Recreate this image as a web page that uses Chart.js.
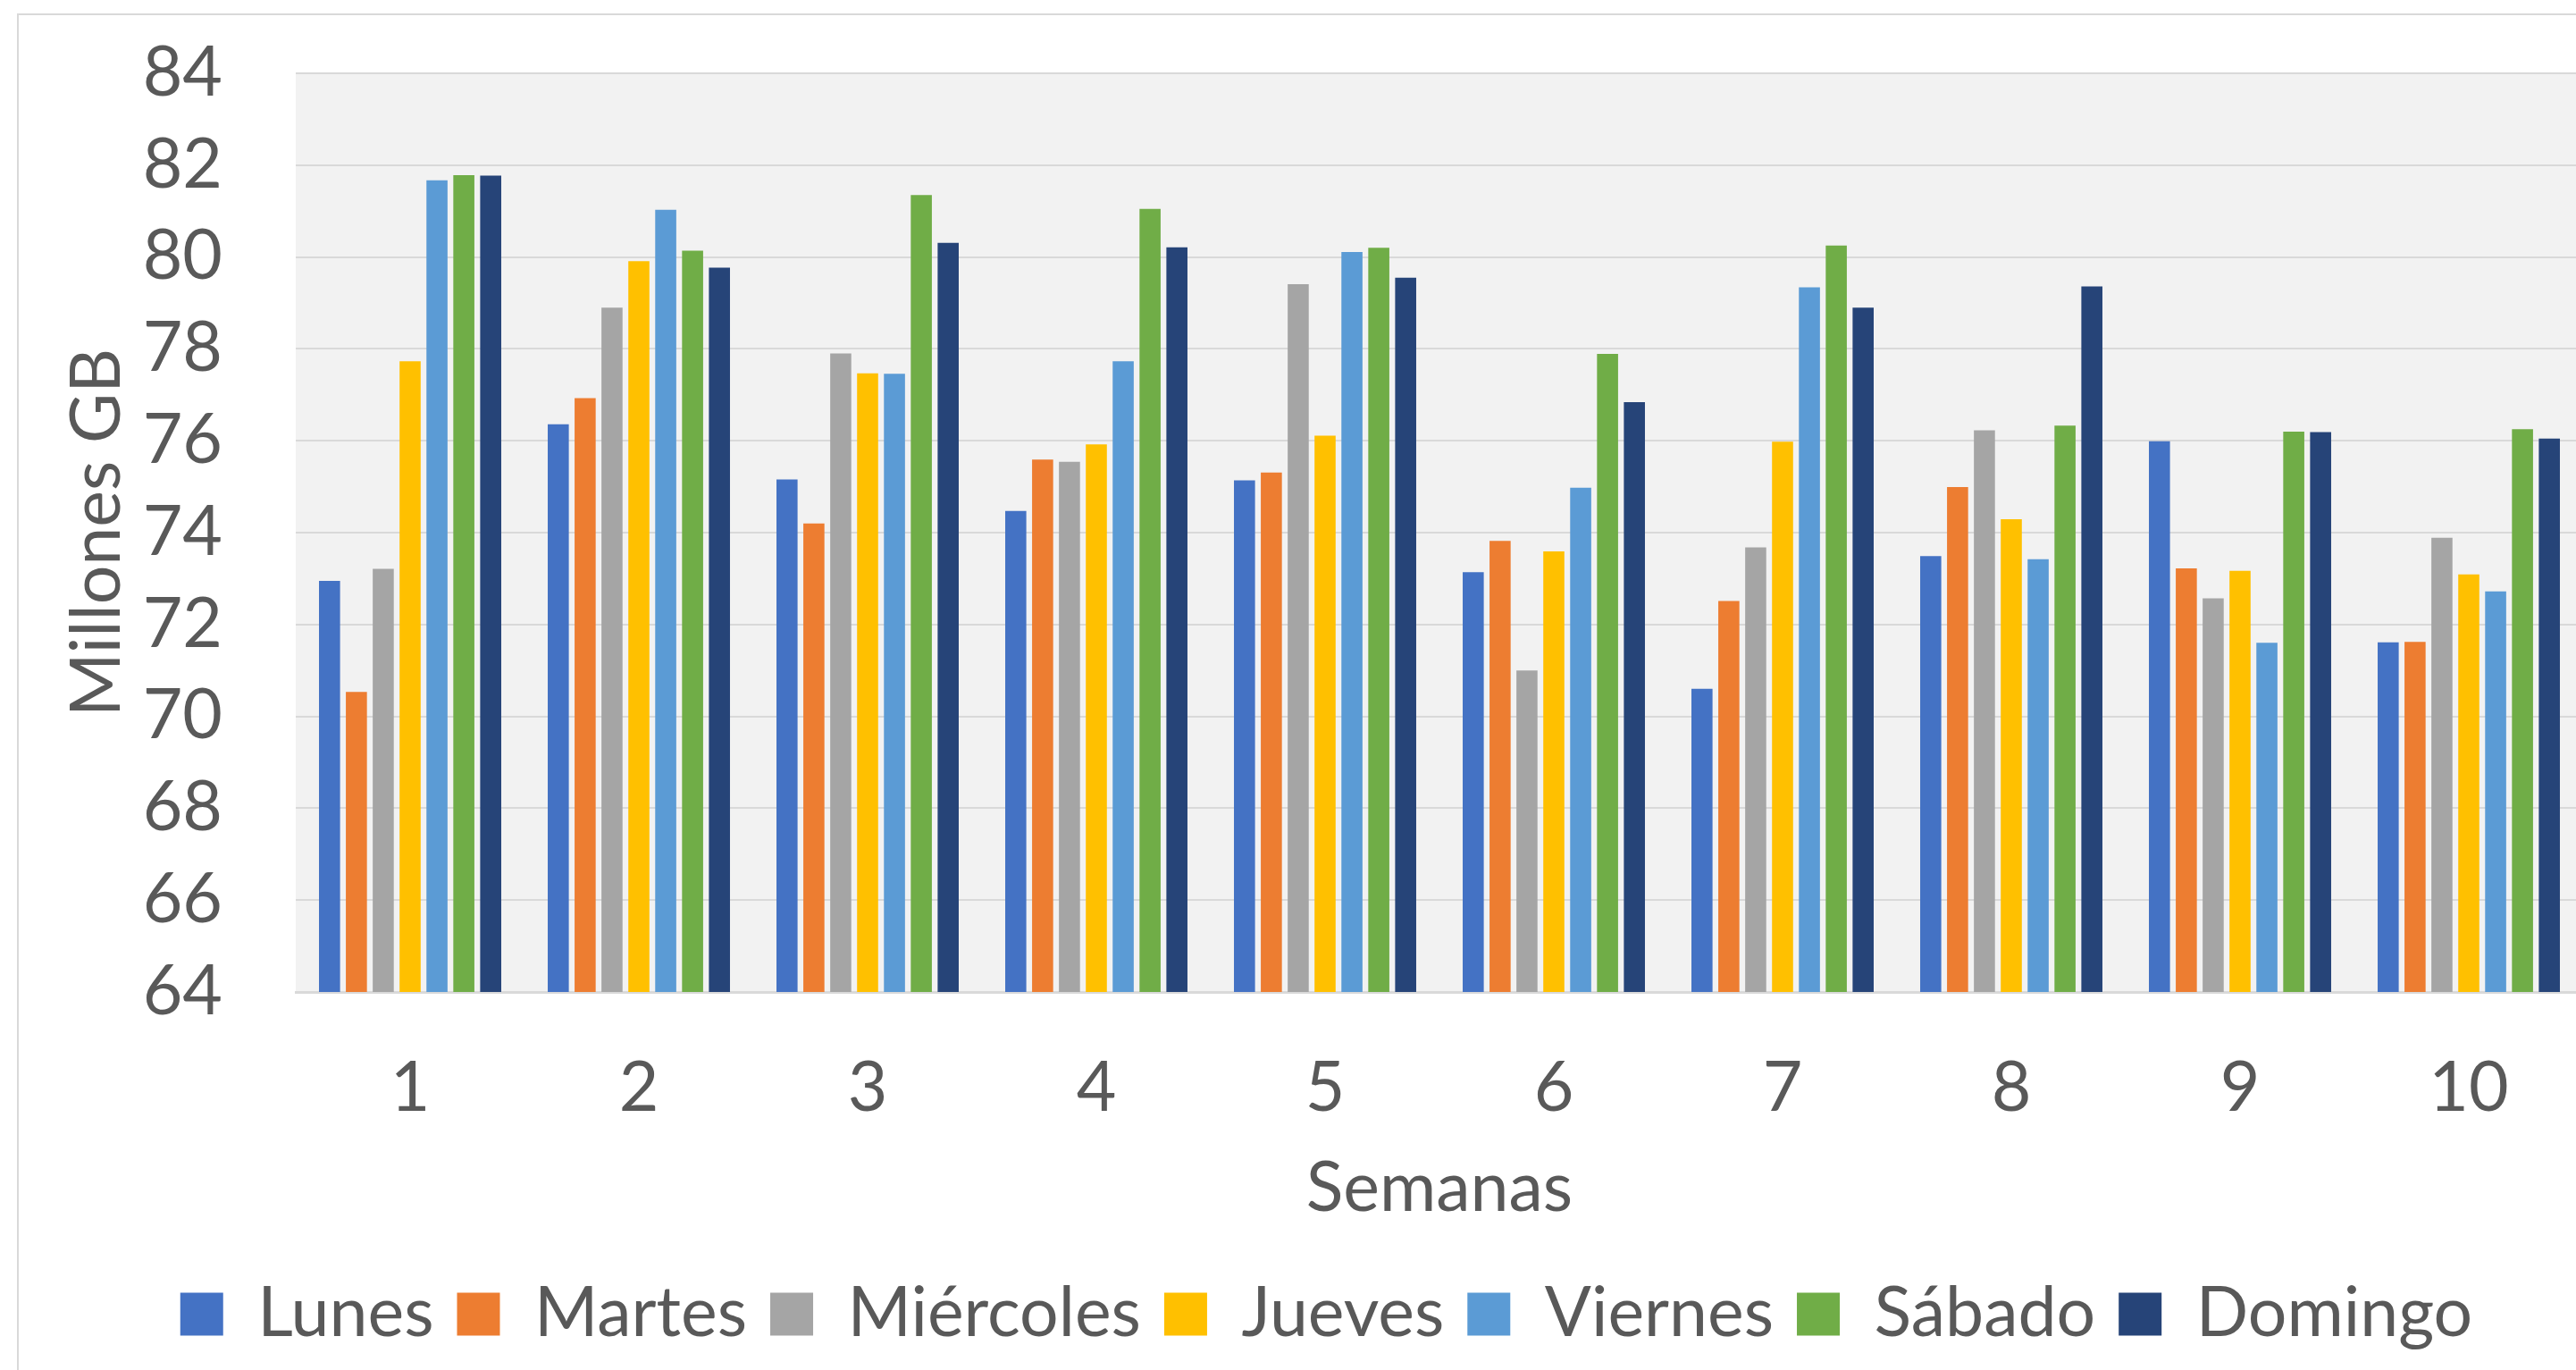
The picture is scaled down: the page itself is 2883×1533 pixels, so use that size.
<!DOCTYPE html>
<html><head><meta charset="utf-8">
<script src="https://cdn.jsdelivr.net/npm/chart.js@4.4.0/dist/chart.umd.min.js"></script>
<style>
html,body{margin:0;padding:0;overflow:hidden;background:#fff;width:2883px;height:1533px}
#c{position:absolute;left:0;top:0}
</style></head>
<body><canvas id="c" width="2986" height="1600"></canvas>
<script>
const weeks = ['1','2','3','4','5','6','7','8','9','10'];
const seriesNames = ['Lunes','Martes','Miércoles','Jueves','Viernes','Sábado','Domingo'];
const lunes     = [72.95, 76.36, 75.16, 74.47, 75.14, 73.14, 70.60, 73.49, 75.99, 71.61];
const martes    = [70.53, 76.93, 74.20, 75.59, 75.31, 73.82, 72.51, 74.99, 73.22, 71.62];
const miercoles = [73.21, 78.90, 77.90, 75.54, 79.41, 71.00, 73.68, 76.23, 72.57, 73.89];
const jueves    = [77.73, 79.91, 77.47, 75.92, 76.11, 73.59, 75.98, 74.29, 73.17, 73.09];
const viernes   = [81.67, 81.03, 77.46, 77.73, 80.11, 74.98, 79.34, 73.42, 71.60, 72.72];
const sabado    = [81.78, 80.14, 81.35, 81.05, 80.20, 77.89, 80.25, 76.33, 76.20, 76.25];
const domingo   = [81.77, 79.77, 80.31, 80.21, 79.55, 76.84, 78.90, 79.36, 76.19, 76.05];
const yMin = 64, yMax = 84, yStep = 2;
const colors = ['#4472C4','#ED7D31','#A5A5A5','#FFC000','#5B9BD5','#70AD47','#264478'];
const seriesData = [lunes, martes, miercoles, jueves, viernes, sabado, domingo];

const textColor = '#595959';
const font = {family: 'Lato', size: 77};

const decor = {
  id: 'decor',
  beforeDraw(chart) {
    const {ctx, chartArea: a} = chart;
    ctx.save();
    ctx.fillStyle = '#fff';
    ctx.fillRect(0, 0, chart.width, chart.height);
    ctx.strokeStyle = '#D9D9D9';
    ctx.lineWidth = 2;
    ctx.strokeRect(20, 16, 2927, chart.height);
    ctx.fillStyle = '#F2F2F2';
    ctx.fillRect(a.left, a.top, a.right - a.left, a.bottom - a.top);
    ctx.restore();
  }
};

new Chart(document.getElementById('c').getContext('2d'), {
  type: 'bar',
  data: {
    labels: weeks,
    datasets: seriesNames.map((n, i) => ({
      label: n,
      data: seriesData[i],
      backgroundColor: colors[i],
      borderWidth: 0,
      categoryPercentage: 0.822,
      barPercentage: 0.785
    }))
  },
  options: {
    responsive: false,
    animation: false,
    devicePixelRatio: 1,
    layout: {padding: {left: 78, right: 95, top: 82, bottom: 81}},
    plugins: {
      legend: {
        position: 'bottom',
        labels: {boxWidth: 48, boxHeight: 48, padding: 26, font: font, color: textColor}
      },
      tooltip: {enabled: false}
    },
    scales: {
      x: {
        grid: {display: false, drawTicks: false},
        border: {display: true, color: '#D9D9D9', width: 3},
        ticks: {font: font, color: textColor, padding: 62},
        title: {display: true, text: 'Semanas', font: font, color: textColor, padding: {top: 0, bottom: 30}},
        afterFit(s) { s.height = 296; }
      },
      y: {
        min: yMin, max: yMax,
        ticks: {stepSize: yStep, font: font, color: textColor, padding: 0},
        grid: {color: '#D9D9D9', lineWidth: 2, drawTicks: true, tickLength: 82, tickColor: 'rgba(0,0,0,0)'},
        border: {display: false},
        title: {display: true, text: 'Millones GB', font: {family: 'Lato', size: 77, lineHeight: 0.8}, color: textColor, padding: {top: 0, bottom: 0}},
        afterFit(s) { s.width = 253; }
      }
    }
  },
  plugins: [decor]
});
</script>
</body></html>
